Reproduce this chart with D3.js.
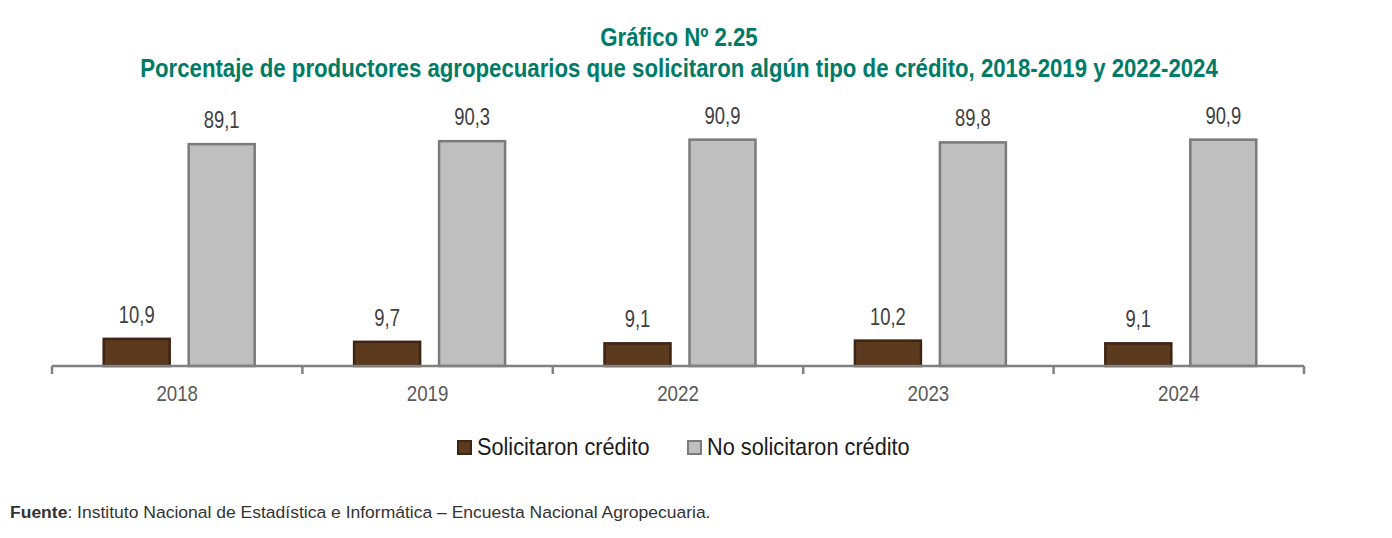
<!DOCTYPE html>
<html>
<head>
<meta charset="utf-8">
<script src="https://cdn.jsdelivr.net/npm/d3@7"></script>
<style>
  body { margin: 0; background: #fff; }
  svg { font-family: "Liberation Sans", Arial, sans-serif; }
</style>
</head>
<body>
<div id="chart"></div>
<script>
// data
var years = ["2018", "2019", "2022", "2023", "2024"];
var seriesNames = ["Solicitaron crédito", "No solicitaron crédito"];
var solicitaron = [10.9, 9.7, 9.1, 10.2, 9.1];
var noSolicitaron = [89.1, 90.3, 90.9, 89.8, 90.9];
var titleLines = ["Gráfico Nº 2.25", "Porcentaje de productores agropecuarios que solicitaron algún tipo de crédito, 2018-2019 y 2022-2024"];

var width = 1392, height = 538;
var fills = ["#5C3A1E", "#BFBFBF"];
var strokes = ["#3E2412", "#7A7A7A"];

var data = years.map(function(y, i){
    return { year: y, values: [solicitaron[i], noSolicitaron[i]] };
});

// the original uses a condensed face; squeeze Liberation Sans horizontally
function squeeze(sel, sx){
    sel.attr("transform", function(){
        var t = d3.select(this);
        return "translate(" + (+t.attr("x") || 0) + "," + (+t.attr("y") || 0) + ") scale(" + sx + ",1)";
    }).attr("x", 0).attr("y", 0);
}

var svg = d3.select("#chart")
    .append("svg")
    .attr("width", width)
    .attr("height", height);

var x = d3.scaleBand()
    .domain(years)
    .range([52, 1304])
    .paddingInner(0)
    .paddingOuter(0);

var x1 = d3.scaleBand()
    .domain([0, 1])
    .range([2, x.bandwidth() + 2])
    .paddingInner(0.2235)
    .paddingOuter(0.585);

var y = d3.scaleLinear()
    .domain([0, 100])
    .range([366, 117]);

// title
svg.selectAll(".title")
    .data(titleLines)
    .enter()
    .append("text")
    .attr("class", "title")
    .attr("x", 679)
    .attr("y", function(d, i){ return i == 0 ? 46 : 77; })
    .attr("text-anchor", "middle")
    .style("font-weight", "bold")
    .style("font-size", "25px")
    .style("fill", "#007B67")
    .text(function(d){ return d; })
    .call(squeeze, 0.888);

// bars
var groups = svg.selectAll(".grp")
    .data(data)
    .enter()
    .append("g")
    .attr("class", "grp")
    .attr("transform", function(d){ return "translate(" + x(d.year) + ",0)"; });

groups.selectAll("rect")
    .data(function(d){ return d.values; })
    .enter()
    .append("rect")
    .attr("x", function(d, i){ return x1(i); })
    .attr("y", function(d){ return y(d); })
    .attr("width", x1.bandwidth())
    .attr("height", function(d){ return y(0) - y(d); })
    .style("fill", function(d, i){ return fills[i]; })
    .style("stroke", function(d, i){ return strokes[i]; })
    .style("stroke-width", 2.5);

groups.selectAll(".val")
    .data(function(d){ return d.values; })
    .enter()
    .append("text")
    .attr("class", "val")
    .attr("x", function(d, i){ return x1(i) + x1.bandwidth() / 2; })
    .attr("y", function(d){ return y(d) - 16; })
    .attr("text-anchor", "middle")
    .style("font-size", "23px")
    .style("fill", "#404040")
    .text(function(d){ return d.toFixed(1).replace(".", ","); })
    .call(squeeze, 0.8);

// axis
var axis = svg.append("g")
    .attr("transform", "translate(0," + y(0) + ")")
    .call(d3.axisBottom(x).tickSize(0).tickPadding(19));
axis.select(".domain").remove();
axis.selectAll("text")
    .style("font-family", "\"Liberation Sans\", Arial, sans-serif")
    .style("font-size", "22px")
    .style("fill", "#595959")
    .attr("transform", "scale(0.85,1)");

svg.append("line")
    .attr("x1", x.range()[0])
    .attr("x2", x.range()[1])
    .attr("y1", y(0))
    .attr("y2", y(0))
    .style("stroke", "#808080")
    .style("stroke-width", 2.5);

var bounds = years.map(function(d){ return x(d); }).concat([x.range()[1]]);
svg.selectAll(".btick")
    .data(bounds)
    .enter()
    .append("line")
    .attr("class", "btick")
    .attr("x1", function(d){ return d; })
    .attr("x2", function(d){ return d; })
    .attr("y1", y(0))
    .attr("y2", y(0) + 8)
    .style("stroke", "#808080")
    .style("stroke-width", 2.5);

// legend
var legendPos = [457, 687];
var legend = svg.selectAll(".key")
    .data(seriesNames)
    .enter()
    .append("g")
    .attr("class", "key")
    .attr("transform", function(d, i){ return "translate(" + legendPos[i] + ",440)"; });

legend.append("rect")
    .attr("x", 1)
    .attr("y", 1)
    .attr("width", 13)
    .attr("height", 13)
    .style("fill", function(d, i){ return fills[i]; })
    .style("stroke", function(d, i){ return strokes[i]; })
    .style("stroke-width", 2);

legend.append("text")
    .attr("x", 20)
    .attr("y", 15)
    .style("font-size", "24px")
    .style("fill", "#1a1a1a")
    .text(function(d){ return d; })
    .call(squeeze, 0.905);

// source
var src = svg.append("text")
    .attr("x", 10)
    .attr("y", 518)
    .style("font-size", "17px")
    .style("fill", "#333")
    .call(squeeze, 1.03);
src.append("tspan").style("font-weight", "bold").text("Fuente");
src.append("tspan").text(": Instituto Nacional de Estadística e Informática – Encuesta Nacional Agropecuaria.");
</script>
</body>
</html>
